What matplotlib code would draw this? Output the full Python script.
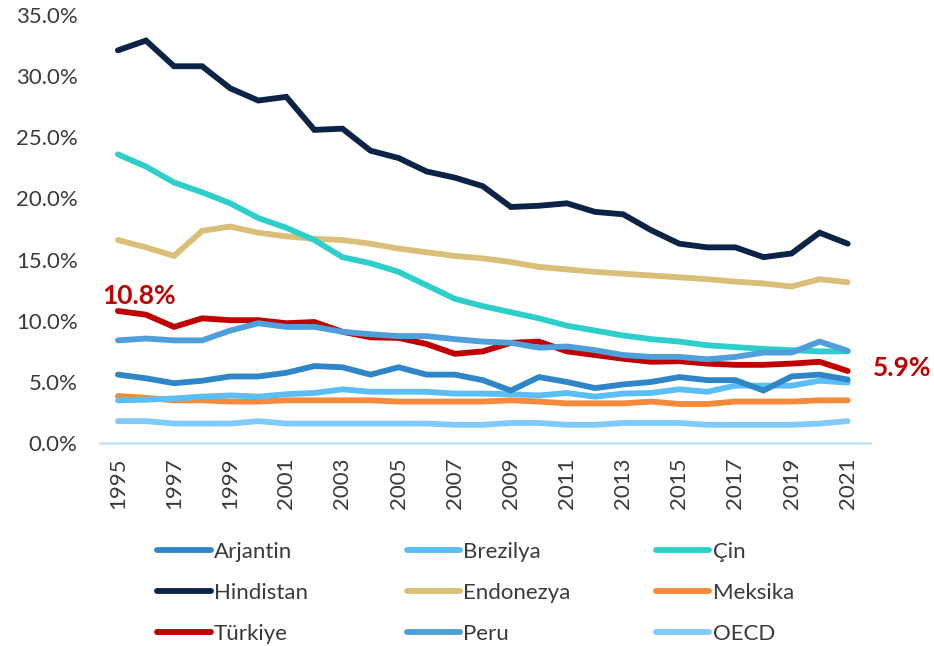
import matplotlib.pyplot as plt
import numpy as np

plt.rcParams['font.family'] = ['Lato', 'DejaVu Sans']

years = np.arange(1995, 2022)

arjantin = [5.6, 5.3, 4.9, 5.1, 5.45, 5.45, 5.75, 6.3, 6.2, 5.6, 6.2, 5.6, 5.6, 5.15,
            4.3, 5.4, 5.0, 4.5, 4.8, 5.0, 5.4, 5.15, 5.15, 4.3, 5.45, 5.6, 5.2]
brezilya = [3.5, 3.55, 3.65, 3.8, 3.9, 3.8, 4.0, 4.1, 4.4, 4.2, 4.2, 4.2, 4.05, 4.05,
            4.0, 3.9, 4.1, 3.8, 4.05, 4.1, 4.4, 4.2, 4.7, 4.7, 4.7, 5.1, 4.95]
cin = [23.6, 22.6, 21.3, 20.5, 19.6, 18.4, 17.6, 16.6, 15.2, 14.7, 14.0, 12.9, 11.8, 11.2,
       10.7, 10.2, 9.6, 9.2, 8.8, 8.5, 8.3, 8.0, 7.85, 7.7, 7.6, 7.5, 7.5]
hindistan = [32.1, 32.9, 30.8, 30.8, 29.0, 28.0, 28.3, 25.6, 25.7, 23.9, 23.3, 22.2, 21.7, 21.0,
             19.3, 19.4, 19.6, 18.9, 18.7, 17.4, 16.3, 16.0, 16.0, 15.2, 15.5, 17.2, 16.3]
endonezya = [16.6, 16.0, 15.3, 17.35, 17.7, 17.2, 16.9, 16.7, 16.6, 16.3, 15.9, 15.6, 15.3, 15.1,
             14.8, 14.4, 14.2, 14.0, 13.85, 13.7, 13.55, 13.4, 13.2, 13.05, 12.8, 13.4, 13.15]
meksika = [3.85, 3.7, 3.5, 3.5, 3.4, 3.4, 3.5, 3.5, 3.5, 3.5, 3.4, 3.4, 3.4, 3.4,
           3.5, 3.4, 3.25, 3.25, 3.25, 3.4, 3.2, 3.2, 3.4, 3.4, 3.4, 3.5, 3.5]
turkiye = [10.8, 10.5, 9.5, 10.2, 10.05, 10.05, 9.8, 9.9, 9.1, 8.65, 8.6, 8.1, 7.3, 7.5,
           8.2, 8.3, 7.5, 7.2, 6.9, 6.65, 6.7, 6.5, 6.4, 6.4, 6.5, 6.65, 5.9]
peru = [8.4, 8.55, 8.4, 8.4, 9.2, 9.8, 9.5, 9.5, 9.1, 8.9, 8.75, 8.75, 8.5, 8.3,
        8.2, 7.8, 7.9, 7.6, 7.2, 7.05, 7.05, 6.85, 7.05, 7.4, 7.4, 8.3, 7.55]
oecd = [1.8, 1.8, 1.6, 1.6, 1.6, 1.8, 1.6, 1.6, 1.6, 1.6, 1.6, 1.6, 1.5, 1.5,
        1.65, 1.65, 1.5, 1.5, 1.65, 1.65, 1.65, 1.5, 1.5, 1.5, 1.5, 1.6, 1.8]

series = [
    ('Arjantin', arjantin, '#2e86c8'),
    ('Brezilya', brezilya, '#5bbef7'),
    ('Çin', cin, '#2ecfcb'),
    ('Hindistan', hindistan, '#0b2346'),
    ('Endonezya', endonezya, '#d9bf78'),
    ('Meksika', meksika, '#f58a3a'),
    ('Türkiye', turkiye, '#c00000'),
    ('Peru', peru, '#4f9fda'),
    ('OECD', oecd, '#80cbfc'),
]

fig = plt.figure(figsize=(9.34, 6.46), dpi=100)
ax = fig.add_axes([0.107, 0.314, 0.824, 0.663])

# draw order: Türkiye / Peru on top like the reference
draw_order = ['OECD', 'Meksika', 'Brezilya', 'Arjantin', 'Endonezya', 'Çin', 'Hindistan', 'Türkiye', 'Peru']
lines = {}
for name, vals, col in series:
    ln, = ax.plot(years, vals, color=col, lw=4.2, solid_capstyle='round', solid_joinstyle='miter',
                  label=name, zorder=3 + draw_order.index(name))
    lines[name] = ln

ax.set_xlim(1994.36, 2021.78)
ax.set_ylim(0, 35)
ax.set_yticks(np.arange(0, 36, 5))
ax.set_yticklabels([f'{v:.1f}%' for v in np.arange(0, 36, 5)])
ax.set_xticks(years[::2])
ax.set_xticklabels([str(y) for y in years[::2]], rotation=90)
ax.tick_params(axis='both', length=0, labelsize=16, labelcolor='#3a3a3a')
ax.tick_params(axis='x', pad=10)
ax.tick_params(axis='y', pad=16)

for s in ['top', 'right', 'left']:
    ax.spines[s].set_visible(False)
ax.spines['bottom'].set_color('#c5e3fa')
ax.spines['bottom'].set_linewidth(2)

ax.text(1994.45, turkiye[0] + 1.2, f'{turkiye[0]:.1f}%', color='#c00000', fontsize=19,
        fontweight='bold', va='center', ha='left')
ax.text(2021.9, turkiye[-1] + 0.25, f'{turkiye[-1]:.1f}%', color='#c00000', fontsize=19,
        fontweight='bold', va='center', ha='left', clip_on=False)

# legend in rows of three; one legend per column so columns are evenly spaced
col_x = [0.1685, 0.4355, 0.7025]
for c in range(3):
    names = [series[r * 3 + c][0] for r in range(3)]
    leg = fig.legend([lines[n] for n in names], names, loc='upper left',
                     bbox_to_anchor=(col_x[c], 0.161), frameon=False, fontsize=16,
                     handlelength=2.4, handletextpad=0.15, labelspacing=0.95,
                     borderaxespad=0, borderpad=0)
    for t in leg.get_texts():
        t.set_color('#3a3a3a')

fig.savefig('out.png', dpi=100)
